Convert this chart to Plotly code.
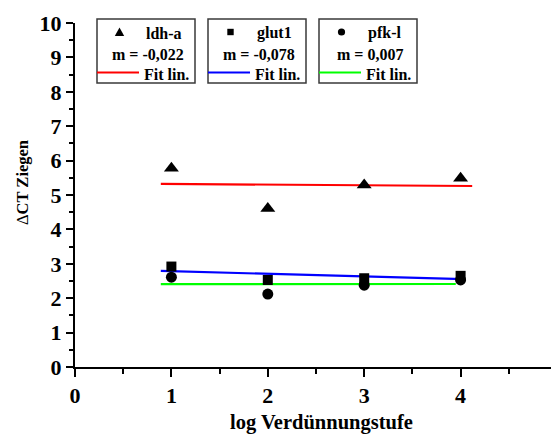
import numpy as np
import plotly.graph_objects as go

# ---- data ----
x_levels = [1, 2, 3, 4]
ldh_a = [5.78, 4.61, 5.29, 5.49]
glut1 = [2.92, 2.53, 2.58, 2.65]
pfk_l = [2.61, 2.12, 2.38, 2.53]
series_names = ["ldh-a", "glut1", "pfk-l"]
slope_labels = ["m = -0,022", "m = -0,078", "m = 0,007"]
fit_x_ranges = [[0.89, 4.12], [0.89, 4.03], [0.89, 3.95]]
x_ticks = [0, 1, 2, 3, 4, 5]
y_ticks = list(range(0, 11))

series_values = [ldh_a, glut1, pfk_l]
symbols = ["triangle-up", "square", "circle"]
marker_sizes = [13, 10, 11]
fit_colors = ["#FF0000", "#0000FF", "#00FF00"]

# the page body has an 8px margin: compensate so the plot lands where the reference has it
OFF = 8
W, H = 559 - OFF, 435 - OFF
ML, MT = 75 - OFF, 23 - OFF
PW, PH = 482, 344
MR = W - ML - PW
MB = H - MT - PH
FONT = "Liberation Serif"
LEG_SIZE = 16


def px2x(px):
    # px given in reference picture coordinates
    return (px - OFF - ML) / PW


def px2y(py):
    return (MT + PH - (py - OFF)) / PH


fig = go.Figure()

# fit lines (linear regression of each series)
for vals, xr, col, name in zip(series_values, fit_x_ranges, fit_colors, series_names):
    m, b = np.polyfit(x_levels, vals, 1)
    xf = np.array(xr)
    fig.add_trace(go.Scatter(x=xf, y=m * xf + b, mode="lines",
                             line=dict(color=col, width=2.2),
                             name="Fit lin. " + name, showlegend=False,
                             hoverinfo="skip"))

# data points
for vals, sym, size, name in zip(series_values, symbols, marker_sizes, series_names):
    fig.add_trace(go.Scatter(x=x_levels, y=vals, mode="markers",
                             marker=dict(symbol=sym, size=size, color="black",
                                         line=dict(width=0)),
                             name=name, showlegend=False))

shapes = []
annotations = []

# custom legend boxes
box_lefts = [97, 208, 319]
box_w = 98
box_top, box_bot = 19, 83
for i, left in enumerate(box_lefts):
    shapes.append(dict(type="rect", xref="paper", yref="paper",
                       x0=px2x(left), x1=px2x(left + box_w),
                       y0=px2y(box_bot), y1=px2y(box_top),
                       line=dict(color="#3a3a3a", width=1.5),
                       fillcolor="white", layer="above"))
    cx, cy = left + 22.5, 32
    if symbols[i] == "triangle-up":
        s = 4.7
        path = (f"M {px2x(cx - s)},{px2y(cy + 4)} L {px2x(cx + s)},{px2y(cy + 4)} "
                f"L {px2x(cx)},{px2y(cy - 4.5)} Z")
        shapes.append(dict(type="path", xref="paper", yref="paper", path=path,
                           fillcolor="black", line=dict(width=0), layer="above"))
    elif symbols[i] == "square":
        s = 3.2
        shapes.append(dict(type="rect", xref="paper", yref="paper",
                           x0=px2x(cx - s), x1=px2x(cx + s),
                           y0=px2y(cy + s), y1=px2y(cy - s),
                           fillcolor="black", line=dict(width=0), layer="above"))
    else:
        s = 3.6
        shapes.append(dict(type="circle", xref="paper", yref="paper",
                           x0=px2x(cx - s), x1=px2x(cx + s),
                           y0=px2y(cy + s), y1=px2y(cy - s),
                           fillcolor="black", line=dict(width=0), layer="above"))
    annotations.append(dict(text="<b>" + series_names[i] + "</b>", xref="paper", yref="paper",
                            x=px2x(left + 47), y=px2y(33), xanchor="left", yanchor="middle",
                            showarrow=False, font=dict(family=FONT, size=LEG_SIZE, color="black")))
    annotations.append(dict(text="<b>" + slope_labels[i] + "</b>", xref="paper", yref="paper",
                            x=px2x(left + 51), y=px2y(54), xanchor="center", yanchor="middle",
                            showarrow=False, font=dict(family=FONT, size=LEG_SIZE, color="black")))
    shapes.append(dict(type="line", xref="paper", yref="paper",
                       x0=px2x(left), x1=px2x(left + 42), y0=px2y(72.5), y1=px2y(72.5),
                       line=dict(color=fit_colors[i], width=2.2), layer="above"))
    annotations.append(dict(text="<b>Fit lin.</b>", xref="paper", yref="paper",
                            x=px2x(left + 45), y=px2y(74), xanchor="left", yanchor="middle",
                            showarrow=False, font=dict(family=FONT, size=LEG_SIZE, color="black")))

# axis titles
annotations.append(dict(text="<b>log Verdünnungstufe</b>", xref="paper", yref="paper",
                        x=px2x(321), y=px2y(422), xanchor="center", yanchor="middle",
                        showarrow=False, font=dict(family=FONT, size=20.5, color="black")))
annotations.append(dict(text="Δ<b>CT Ziegen</b>", xref="paper", yref="paper",
                        x=px2x(22), y=px2y(183), xanchor="center", yanchor="middle",
                        textangle=-90, showarrow=False,
                        font=dict(family=FONT, size=16.5, color="black")))

fig.update_layout(
    width=W, height=H,
    margin=dict(l=ML, r=MR, t=MT, b=MB, pad=0, autoexpand=False),
    template="none",
    paper_bgcolor="white", plot_bgcolor="white",
    showlegend=False,
    shapes=shapes, annotations=annotations,
    font=dict(family=FONT, color="black"),
)
fig.update_xaxes(range=[0, 5], tickvals=x_ticks, ticktext=[f"<b>{v}</b>" for v in x_ticks],
                 showline=True, linecolor="black", linewidth=2, mirror=False,
                 ticks="outside", ticklen=8, tickwidth=2, tickcolor="black",
                 minor=dict(dtick=0.5, ticks="outside", ticklen=5, tickwidth=2, tickcolor="black"),
                 showgrid=False, zeroline=False, automargin=False,
                 ticklabeloverflow="allow",
                 tickfont=dict(family=FONT, size=22, color="black"))
fig.update_yaxes(range=[0, 10], tickvals=y_ticks, ticktext=[f"<b>{v}</b>" for v in y_ticks],
                 showline=True, linecolor="black", linewidth=2, mirror=False,
                 ticks="outside", ticklen=7, tickwidth=2, tickcolor="black",
                 minor=dict(dtick=0.5, ticks="outside", ticklen=4, tickwidth=2, tickcolor="black"),
                 showgrid=False, zeroline=False, automargin=False,
                 ticklabeloverflow="allow",
                 tickfont=dict(family=FONT, size=22, color="black"))

fig.write_html("out.html")
